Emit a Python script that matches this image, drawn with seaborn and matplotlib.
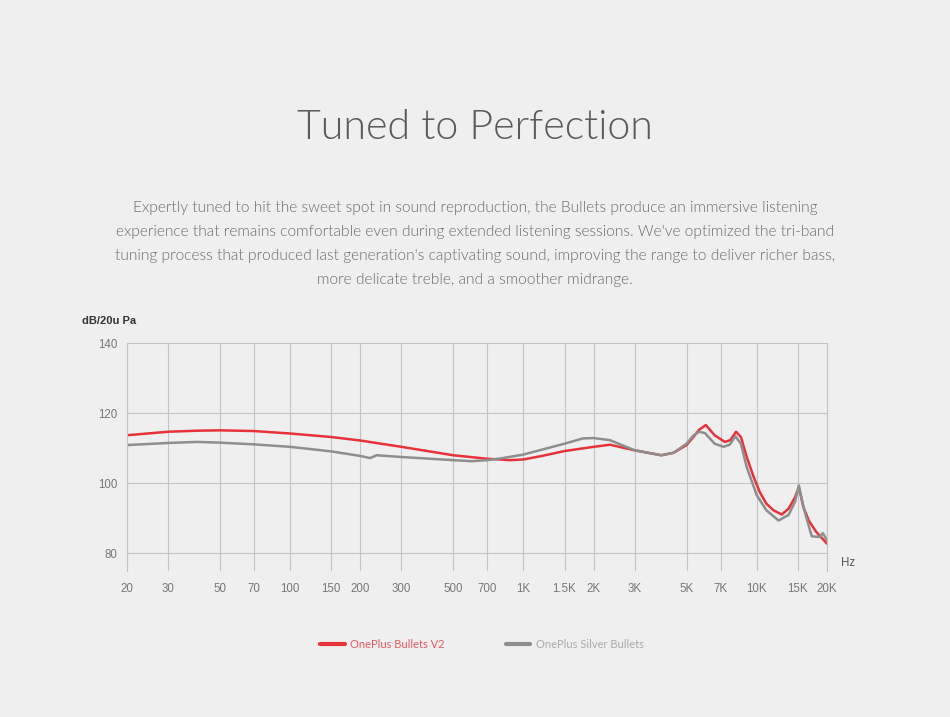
import numpy as np
import pandas as pd
import seaborn as sns
import matplotlib.pyplot as plt
from matplotlib.ticker import FixedLocator, NullLocator

# frequency response
v2_freq = [20, 30, 40, 50, 70, 100, 150, 200, 300, 500, 700, 880, 1000, 1200,
           1500, 2000, 2350, 3000, 3900, 4400, 5000, 5350, 5670, 6050, 6600,
           7300, 7700, 8150, 8550, 9050, 9700, 10300, 11000, 11800, 12800,
           13700, 14600, 15150, 15850, 16700, 18000, 20000]
v2_db = [113.7, 114.7, 115.0, 115.1, 114.9, 114.2, 113.2, 112.2, 110.4, 108.0,
         107.0, 106.6, 106.8, 107.8, 109.2, 110.4, 111.0, 109.4, 108.0, 108.7,
         110.9, 113.2, 115.3, 116.6, 113.7, 111.8, 112.3, 114.7, 113.2, 107.6,
         101.8, 97.5, 94.2, 92.3, 91.1, 92.8, 96.1, 98.9, 93.2, 89.4, 86.1, 82.8]

silver_freq = [20, 30, 40, 50, 70, 100, 150, 200, 220, 235, 300, 500, 600, 700,
               800, 1000, 1500, 1800, 2000, 2350, 3000, 3900, 4400, 5000, 5350,
               5670, 6000, 6600, 7200, 7650, 8100, 8550, 9050, 10000, 11000,
               12400, 13700, 14600, 15150, 15850, 17200, 18600, 19200, 20000]
silver_db = [110.9, 111.5, 111.8, 111.6, 111.1, 110.4, 109.1, 107.8, 107.2,
             108.0, 107.5, 106.6, 106.3, 106.6, 107.1, 108.2, 111.3, 112.8,
             112.9, 112.3, 109.4, 108.0, 108.7, 111.3, 113.6, 114.7, 114.3,
             111.3, 110.4, 111.0, 113.4, 111.3, 104.7, 96.6, 92.3, 89.4, 91.0,
             94.8, 99.4, 93.2, 84.9, 84.7, 85.8, 83.7]

series_names = ["OnePlus Bullets V2", "OnePlus Silver Bullets"]
series_colors = ["#e8323a", "#8e8e8e"]

x_ticks = [20, 30, 50, 70, 100, 150, 200, 300, 500, 700, 1000, 1500, 2000,
           3000, 5000, 7000, 10000, 15000, 20000]
x_labels = ["20", "30", "50", "70", "100", "150", "200", "300", "500", "700",
            "1K", "1.5K", "2K", "3K", "5K", "7K", "10K", "15K", "20K"]
y_ticks = [80, 100, 120, 140]

title = "Tuned to Perfection"
paragraph = [
    "Expertly tuned to hit the sweet spot in sound reproduction, the Bullets produce an immersive listening",
    "experience that remains comfortable even during extended listening sessions. We've optimized the tri-band",
    "tuning process that produced last generation's captivating sound, improving the range to deliver richer bass,",
    "more delicate treble, and a smoother midrange.",
]

df = pd.concat([
    pd.DataFrame({"freq": v2_freq, "db": v2_db, "model": series_names[0]}),
    pd.DataFrame({"freq": silver_freq, "db": silver_db, "model": series_names[1]}),
])

bg = "#efefef"
sns.set_theme(style="white")
plt.rcParams["font.family"] = ["Liberation Sans", "DejaVu Sans"]

fig = plt.figure(figsize=(9.5, 7.17), dpi=100, facecolor=bg)
ax = fig.add_axes([127 / 950, 1 - 571 / 717, 700 / 950, 228 / 717])
ax.set_facecolor(bg)

sns.lineplot(data=df, x="freq", y="db", hue="model", palette=series_colors,
             estimator=None, linewidth=1.8, ax=ax, legend=False)

ax.set_xscale("log")
ax.set_xlim(20, 20000)
ax.set_ylim(75, 140)
ax.xaxis.set_major_locator(FixedLocator(x_ticks))
ax.xaxis.set_minor_locator(NullLocator())
ax.set_xticklabels(x_labels)
ax.set_yticks(y_ticks)
ax.grid(True, color="#c4c4c4", linewidth=0.8)
ax.set_axisbelow(True)
ax.set_xlabel("")
ax.set_ylabel("")
ax.tick_params(axis="both", labelsize=8.3, colors="#777777", labelcolor="#777777")
ax.tick_params(axis="y", length=4, width=0.8, color="#c4c4c4", pad=3)
ax.tick_params(axis="x", length=0, pad=9)
for side in ["top", "bottom"]:
    ax.spines[side].set_visible(False)
for side in ["left", "right"]:
    ax.spines[side].set_color("#c4c4c4")
    ax.spines[side].set_linewidth(0.8)

fig.text(82 / 950, 1 - 321 / 717, "dB/20u Pa", fontsize=8, fontweight="bold",
         color="#333333", va="center", ha="left")
fig.text(841 / 950, 1 - 563 / 717, "Hz", fontsize=8.3, color="#555555",
         va="center", ha="left")

fig.text(0.5, 1 - 139 / 717, title, fontsize=29.6, family="Lato",
         fontweight=300, color="#5a5a5a", ha="center", va="baseline")
for i, line in enumerate(paragraph):
    fig.text(0.5, 1 - (212 + 24 * i) / 717, line, fontsize=11.2, family="Lato",
             fontweight=300, color="#6a6a6a", ha="center", va="baseline")

handles = [plt.Line2D([], [], color=c, linewidth=3) for c in series_colors]
fig.legend(handles, series_names, loc="center", ncol=2,
           bbox_to_anchor=(482 / 950, 1 - 644 / 717), frameon=False,
           handlelength=2.2, handletextpad=0.5, columnspacing=5.5,
           prop={"family": "Lato", "size": 8},
           labelcolor=["#ea5a60", "#ababab"])

fig.savefig("out.png", dpi=100, facecolor=bg)
